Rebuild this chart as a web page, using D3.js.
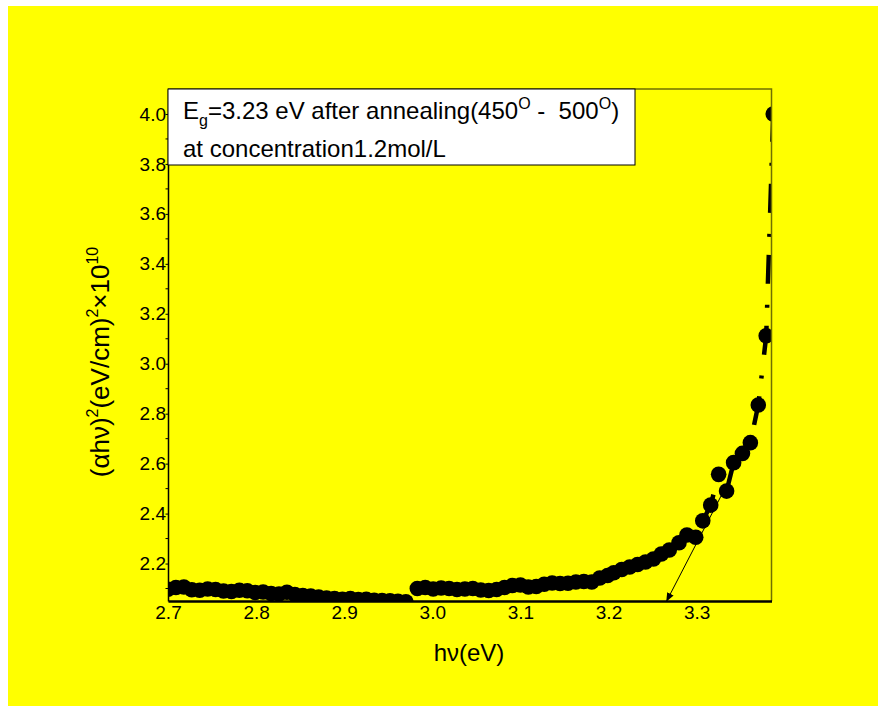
<!DOCTYPE html>
<html>
<head>
<meta charset="utf-8">
<script src="https://cdn.jsdelivr.net/npm/d3@7/dist/d3.min.js"></script>
<style>
  html, body { margin: 0; padding: 0; background: #ffffff; }
  svg { display: block; }
  text { font-family: "Liberation Sans", Arial, sans-serif; fill: #000; white-space: pre; }
</style>
</head>
<body>
<svg id="chart" width="886" height="717"></svg>
<script>
// Photon energy hν (eV) of each measured point
const photonEnergy = [
  2.700, 2.709, 2.718, 2.727, 2.736, 2.745, 2.754, 2.763, 2.772, 2.781,
  2.790, 2.799, 2.808, 2.817, 2.826, 2.835, 2.844, 2.853, 2.862, 2.871,
  2.880, 2.889, 2.898, 2.907, 2.916, 2.925, 2.934, 2.943, 2.952, 2.961,
  2.970,
  2.983, 2.992, 3.001, 3.010, 3.019, 3.028, 3.037, 3.046, 3.055, 3.064,
  3.073, 3.082, 3.091, 3.100, 3.109, 3.118, 3.127, 3.136, 3.145, 3.154,
  3.163, 3.172, 3.181, 3.190, 3.199, 3.206, 3.215, 3.224, 3.233, 3.242,
  3.251, 3.260, 3.269, 3.280, 3.289, 3.299, 3.307, 3.316, 3.325, 3.334,
  3.342, 3.352, 3.361, 3.370, 3.379, 3.387
];

// (αhν)² in units of (eV/cm)²×10^10
const absorptionSq = [
  2.097, 2.104, 2.106, 2.095, 2.093, 2.098, 2.096, 2.090, 2.088, 2.093,
  2.091, 2.084, 2.086, 2.080, 2.078, 2.085, 2.076, 2.072, 2.070, 2.066,
  2.062, 2.060, 2.057, 2.060, 2.056, 2.057, 2.053, 2.052, 2.051, 2.049,
  2.047,
  2.100, 2.104, 2.098, 2.102, 2.100, 2.096, 2.098, 2.100, 2.094, 2.092,
  2.096, 2.104, 2.112, 2.114, 2.106, 2.108, 2.117, 2.122, 2.120, 2.121,
  2.126, 2.128, 2.126, 2.142, 2.152, 2.163, 2.176, 2.186, 2.196, 2.206,
  2.218, 2.238, 2.254, 2.283, 2.314, 2.305, 2.371, 2.434, 2.557, 2.490,
  2.604, 2.641, 2.684, 2.835, 3.112, 4.000
];

// Linear extrapolation of the absorption edge towards the energy axis
const edgeFitEnergy = [3.335, 3.266];
const edgeFitValue  = [2.520, 2.050];

const xTickValues = [2.7, 2.8, 2.9, 3.0, 3.1, 3.2, 3.3];
const yTickValues = [2.2, 2.4, 2.6, 2.8, 3.0, 3.2, 3.4, 3.6, 3.8, 4.0];
const yMinorTickValues = [2.1, 2.3, 2.5, 2.7, 2.9, 3.1, 3.3, 3.5, 3.7, 3.9];

const points = photonEnergy.map((e, i) => ({ e, v: absorptionSq[i] }));
const fitLine = edgeFitEnergy.map((e, i) => ({ e, v: edgeFitValue[i] }));

const svg = d3.select("#chart");
const plot = { left: 168, right: 771.5, top: 89, bottom: 601 };

const x = d3.scaleLinear().domain([2.7, 3.385]).range([plot.left, plot.right]);
const y = d3.scaleLinear().domain([2.05, 4.1]).range([plot.bottom, plot.top]);

// Yellow page background
svg.append("rect")
  .attr("x", 8).attr("y", 6).attr("width", 870).attr("height", 700)
  .attr("fill", "#ffff00");

// Clip region for the data
svg.append("defs").append("clipPath").attr("id", "plotClip")
  .append("rect")
  .attr("x", plot.left).attr("y", plot.top)
  .attr("width", plot.right - plot.left).attr("height", plot.bottom - plot.top);

const dataLayer = svg.append("g").attr("clip-path", "url(#plotClip)");

// Dash-dot connecting line
const line = d3.line().x(d => x(d.e)).y(d => y(d.v));
dataLayer.append("path")
  .datum(points)
  .attr("d", line)
  .attr("fill", "none")
  .attr("stroke", "#000")
  .attr("stroke-width", 4.5)
  .attr("stroke-dasharray", "29,18,3,21");

// Measured points
dataLayer.selectAll("circle.pt")
  .data(points)
  .join("circle")
  .attr("class", "pt")
  .attr("cx", d => x(d.e))
  .attr("cy", d => y(d.v))
  .attr("r", 7.8)
  .attr("fill", "#000");

// Edge extrapolation with arrow head
svg.append("defs").append("marker")
  .attr("id", "arrowHead")
  .attr("viewBox", "0 0 10 10")
  .attr("refX", 9).attr("refY", 5)
  .attr("markerWidth", 9).attr("markerHeight", 9)
  .attr("markerUnits", "userSpaceOnUse")
  .attr("orient", "auto")
  .append("path")
  .attr("d", "M0,1 L10,5 L0,9 Z")
  .attr("fill", "#000");

svg.append("path")
  .datum(fitLine)
  .attr("d", line)
  .attr("fill", "none")
  .attr("stroke", "#000")
  .attr("stroke-width", 1)
  .attr("marker-end", "url(#arrowHead)");

// Frame: top and right edges
svg.append("path")
  .attr("d", `M${plot.left},${plot.top}H${plot.right}V${plot.bottom}`)
  .attr("fill", "none")
  .attr("stroke", "#707000")
  .attr("stroke-width", 1.5);

// Y axis
const yAxis = svg.append("g")
  .attr("transform", `translate(${plot.left},0)`)
  .call(d3.axisLeft(y).tickValues(yTickValues).tickFormat(d3.format(".1f"))
    .tickSize(2.5).tickSizeOuter(0).tickPadding(-0.5));
yAxis.select(".domain").attr("stroke", "#000").attr("stroke-width", 1.5);
yAxis.selectAll("text").style("font-size", "19px")
  .style("font-family", '"Liberation Sans", Arial, sans-serif');
yAxis.selectAll(".tick line").attr("stroke", "#000");

svg.append("g")
  .attr("transform", `translate(${plot.left},0)`)
  .selectAll("line")
  .data(yMinorTickValues)
  .join("line")
  .attr("x1", -2.5).attr("x2", 0)
  .attr("y1", d => y(d)).attr("y2", d => y(d))
  .attr("stroke", "#000");

// X axis
const xAxis = svg.append("g")
  .attr("transform", `translate(0,${plot.bottom})`)
  .call(d3.axisBottom(x).tickValues(xTickValues).tickFormat(d3.format(".1f"))
    .tickSize(0).tickSizeOuter(0).tickPadding(4));
xAxis.select(".domain").attr("stroke", "#000").attr("stroke-width", 2.5);
xAxis.selectAll("text").style("font-size", "19px")
  .style("font-family", '"Liberation Sans", Arial, sans-serif')
  .attr("dy", "0.72em");

// Axis titles
svg.append("text")
  .attr("x", 469).attr("y", 661)
  .attr("text-anchor", "middle")
  .style("font-size", "24px")
  .text("hν(eV)");

const yTitle = svg.append("text")
  .attr("transform", "translate(109,362) rotate(-90)")
  .attr("text-anchor", "middle")
  .style("font-size", "26px");
yTitle.append("tspan").text("(αhν)");
yTitle.append("tspan").attr("dy", -11).style("font-size", "16px").text("2");
yTitle.append("tspan").attr("dy", 11).text("(eV/cm)");
yTitle.append("tspan").attr("dy", -11).style("font-size", "16px").text("2");
yTitle.append("tspan").attr("dy", 11).text("×10");
yTitle.append("tspan").attr("dy", -11).style("font-size", "16px").text("10");

// Annotation box
svg.append("rect")
  .attr("x", plot.left).attr("y", plot.top)
  .attr("width", 467).attr("height", 76)
  .attr("fill", "#ffffff")
  .attr("stroke", "#000")
  .attr("stroke-width", 1);

const note1 = svg.append("text")
  .attr("x", 183).attr("y", 119)
  .style("font-size", "24px");
note1.append("tspan").text("E");
note1.append("tspan").attr("dy", 7).style("font-size", "16px").text("g");
note1.append("tspan").attr("dy", -7).text("=3.23 eV after annealing(450");
note1.append("tspan").attr("dy", -10).style("font-size", "16px").text("O");
note1.append("tspan").attr("dy", 10).text(" -  500");
note1.append("tspan").attr("dy", -10).style("font-size", "16px").text("O");
note1.append("tspan").attr("dy", 10).text(")");

svg.append("text")
  .attr("x", 183).attr("y", 157)
  .style("font-size", "24px")
  .text("at concentration1.2mol/L");
</script>
</body>
</html>
